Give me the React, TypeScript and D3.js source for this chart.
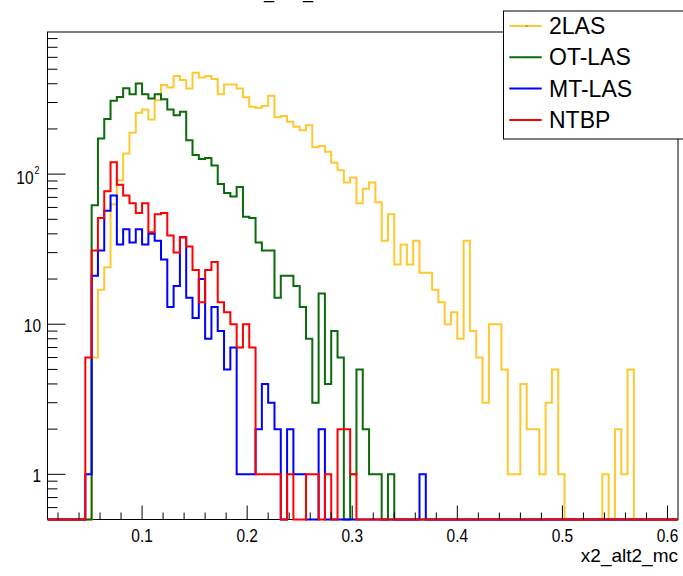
import React from "react";
import * as d3 from "d3";

const width = 683;
const height = 576;

const nBins = 100;
const xMin = 0.01;
const xMax = 0.61;
const yMin = 0.5;
const yMax = 885;

const seriesNames = ["2LAS", "OT-LAS", "MT-LAS", "NTBP"];
const seriesColors = ["#ffc82e", "#0b6b0b", "#0000ff", "#ff0000"];

// bin contents, bin 0 .. bin 99
const counts2LAS = [
  0, 0, 0, 0, 0, 0, 0, 6, 17, 24,
  63, 91, 137, 189, 256, 270, 231, 311, 392, 378,
  450, 423, 372, 473, 441, 450, 430, 340, 396, 396,
  372, 325, 281, 277, 284, 333, 239, 244, 223, 207,
  196, 212, 151, 154, 141, 119, 106, 88, 95, 64,
  80, 88, 65, 36, 54, 25, 34, 25, 36, 22,
  22, 17, 14, 10, 12, 8, 36, 9, 6, 3,
  10, 10, 5, 1, 1, 4, 2, 2, 1, 3,
  5, 1, 0, 0, 0, 0, 0, 0, 1, 0,
  2, 1, 5, 0, 0, 0, 0, 0, 0, 0,
];
const countsOTLAS = [
  0, 0, 0, 0, 0, 0, 0, 62, 173, 233,
  308, 327, 373, 340, 402, 340, 319, 340, 316, 270,
  247, 260, 168, 134, 126, 128, 114, 86, 75, 71,
  82, 52, 51, 35, 31, 31, 15, 21, 21, 18,
  13, 8, 3, 16, 4, 9, 6, 0, 1, 5,
  2, 1, 1, 0, 1, 0, 0, 0, 0, 0,
  0, 0, 0, 0, 0, 0, 0, 0, 0, 0,
  0, 0, 0, 0, 0, 0, 0, 0, 0, 0,
  0, 0, 0, 0, 0, 0, 0, 0, 0, 0,
  0, 0, 0, 0, 0, 0, 0, 0, 0, 0,
];
const countsMTLAS = [
  0, 0, 0, 0, 0, 0, 1, 21, 31, 57,
  72, 34, 43, 35, 43, 34, 40, 36, 27, 13,
  18, 38, 15, 11, 20, 8, 13, 9, 5, 7,
  1, 1, 1, 2, 4, 3, 2, 0, 2, 1,
  1, 0, 0, 2, 0, 0, 0, 0, 0, 0,
  0, 0, 0, 0, 0, 0, 0, 0, 0, 1,
  0, 0, 0, 0, 0, 0, 0, 0, 0, 0,
  0, 0, 0, 0, 0, 0, 0, 0, 0, 0,
  0, 0, 0, 0, 0, 0, 0, 0, 0, 0,
  0, 0, 0, 0, 0, 0, 0, 0, 0, 0,
];
const countsNTBP = [
  0, 0, 0, 0, 0, 0, 6, 31, 51, 77,
  120, 85, 72, 64, 55, 64, 41, 54, 55, 39,
  30, 38, 33, 23, 14, 23, 26, 14, 12, 10,
  7, 10, 7, 1, 1, 1, 1, 0, 1, 0,
  0, 1, 1, 0, 1, 0, 2, 2, 1, 0,
  0, 0, 0, 0, 0, 0, 0, 0, 0, 0,
  0, 0, 0, 0, 0, 0, 0, 0, 0, 0,
  0, 0, 0, 0, 0, 0, 0, 0, 0, 0,
  0, 0, 0, 0, 0, 0, 0, 0, 0, 0,
  0, 0, 0, 0, 0, 0, 0, 0, 0, 0,
];
const allCounts = [counts2LAS, countsOTLAS, countsMTLAS, countsNTBP];

const xTickLabels = ["0.1", "0.2", "0.3", "0.4", "0.5", "0.6"];
const yTickValues = [1, 10, 100];
const xTitle = "x2_alt2_mc";
const histTitle = "x2_alt2_mc";

const frame = { left: 47.5, right: 678, top: 32, bottom: 519.5 };
const font = "'Liberation Sans', Arial, Helvetica, sans-serif";

const App = () => {
  const x = d3.scaleLinear().domain([xMin, xMax]).range([frame.left, frame.right]);
  const y = d3.scaleLog().domain([yMin, yMax]).range([frame.bottom, frame.top]);
  const binW = (xMax - xMin) / nBins;
  const edges = d3.range(nBins + 1).map((i) => xMin + i * binW);

  const step = d3
    .line<[number, number]>()
    .x((d) => x(d[0]))
    .y((d) => y(Math.max(d[1], yMin)))
    .curve(d3.curveStepAfter);

  const histPath = (c: number[]) =>
    step([
      ...c.map((v, i) => [edges[i], v] as [number, number]),
      [edges[nBins], c[nBins - 1]] as [number, number],
    ]) || "";

  const xTicks = x.ticks(30);
  const isMajorX = (v: number) => Math.abs(v * 10 - Math.round(v * 10)) < 1e-6;
  const yTicks = y.ticks().filter((v) => v > yMin + 1e-9 && v < yMax);
  const isMajorY = (v: number) => Math.abs(Math.log10(v) - Math.round(Math.log10(v))) < 1e-9;

  const legendX = 503.5;
  const legendTop = 11;
  const legendRowH = 31.3;

  return (
    <svg
      width={width}
      height={height}
      style={{ position: "absolute", left: 0, top: 0, background: "#fff" }}
      fontFamily={font}
    >
      <defs>
        <clipPath id="frameClip">
          <rect
            x={frame.left}
            y={frame.top}
            width={frame.right - frame.left}
            height={frame.bottom - frame.top + 1.5}
          />
        </clipPath>
      </defs>
      <rect width={width} height={height} fill="#fff" />

      {/* title, mostly above the visible page */}
      <text x={291} y={-2} textAnchor="middle" fontSize={18} fill="#000">
        {histTitle}
      </text>

      {/* frame */}
      <rect
        x={frame.left}
        y={frame.top}
        width={frame.right - frame.left}
        height={frame.bottom - frame.top}
        fill="none"
        stroke="#000"
        strokeWidth={1}
      />

      {/* histograms */}
      <g clipPath="url(#frameClip)">
        {allCounts.map((c, i) => (
          <path
            key={seriesNames[i]}
            d={histPath(c)}
            fill="none"
            stroke={seriesColors[i]}
            strokeWidth={2}
          />
        ))}
      </g>

      {/* x ticks */}
      {xTicks.map((v) => (
        <line
          key={"xt" + v}
          x1={x(v)}
          x2={x(v)}
          y1={frame.bottom}
          y2={frame.bottom - (isMajorX(v) ? 14 : 7)}
          stroke="#000"
          strokeWidth={1}
        />
      ))}
      {xTickLabels.map((lab) => (
        <text
          key={"xl" + lab}
          transform={`translate(${x(+lab)},${542}) scale(0.86,1)`}
          textAnchor="middle"
          fontSize={18}
          fill="#000"
        >
          {lab}
        </text>
      ))}
      <text x={frame.right} y={562} textAnchor="end" fontSize={19} fill="#000">
        {xTitle}
      </text>

      {/* y ticks */}
      {yTicks.map((v) => (
        <line
          key={"yt" + v}
          x1={frame.left}
          x2={frame.left + (isMajorY(v) ? 18 : 10)}
          y1={y(v)}
          y2={y(v)}
          stroke="#000"
          strokeWidth={1}
        />
      ))}
      {yTickValues.map((v) => {
        const exp = Math.round(Math.log10(v));
        if (exp < 2) {
          return (
            <text
              key={"yl" + v}
              transform={`translate(41,${y(v) + 8}) scale(0.86,1)`}
              textAnchor="end"
              fontSize={18}
              fill="#000"
            >
              {String(v)}
            </text>
          );
        }
        return (
          <g key={"yl" + v}>
            <text
              transform={`translate(33.5,${y(v) + 10}) scale(0.86,1)`}
              textAnchor="end"
              fontSize={18}
              fill="#000"
            >
              10
            </text>
            <text
              transform={`translate(34.5,${y(v) - 0.5}) scale(0.86,1)`}
              fontSize={10.5}
              fill="#000"
            >
              {String(exp)}
            </text>
          </g>
        );
      })}

      {/* legend */}
      <rect
        x={legendX}
        y={legendTop}
        width={width - legendX + 10}
        height={128}
        fill="#fff"
        stroke="#000"
        strokeWidth={1}
      />
      {seriesNames.map((name, i) => {
        const cy = legendTop + 15 + i * legendRowH;
        return (
          <g key={"lg" + name}>
            <line
              x1={509.3}
              x2={541.7}
              y1={cy}
              y2={cy}
              stroke={seriesColors[i]}
              strokeWidth={2}
            />
            <rect x={526.2} y={cy - 0.5} width={1} height={1} fill="#333" />
            <text x={549} y={cy + 8} fontSize={23} fill="#000">
              {name}
            </text>
          </g>
        );
      })}
    </svg>
  );
};

export default App;
